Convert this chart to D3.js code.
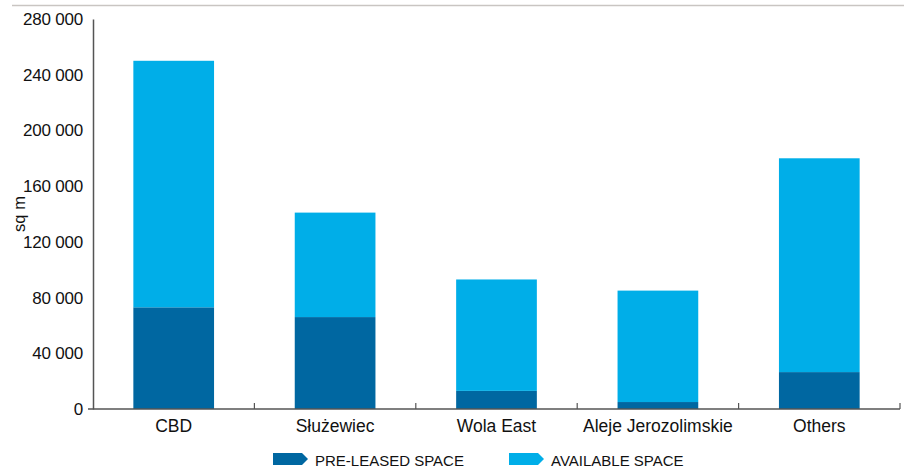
<!DOCTYPE html>
<html>
<head>
<meta charset="utf-8">
<script src="https://cdn.jsdelivr.net/npm/d3@7"></script>
<style>
  body { margin: 0; background: #fff; }
  svg { display: block; font-family: "Liberation Sans", Arial, sans-serif; }
</style>
</head>
<body>
<script>
// data
const districts = ["CBD", "Służewiec", "Wola East", "Aleje Jerozolimskie", "Others"];
const preLeased = [73000, 66000, 13000, 5000, 26500];
const available = [177000, 75000, 80000, 80000, 153500];
const yTicks = [0, 40000, 80000, 120000, 160000, 200000, 240000, 280000];
const seriesNames = ["PRE-LEASED SPACE", "AVAILABLE SPACE"];
const seriesColors = ["#0067a1", "#00aee8"];

const width = 911, height = 470;
const margin = { top: 19, right: 11, bottom: 61, left: 93 };

const svg = d3.select("body").append("svg")
    .attr("width", width)
    .attr("height", height);

// thin rule at the top
svg.append("line")
    .attr("x1", 12).attr("x2", 904)
    .attr("y1", 5.5).attr("y2", 5.5)
    .attr("stroke", "#c9c5c2").attr("stroke-width", 1.5);

const x = d3.scaleBand()
    .domain(districts)
    .range([margin.left, width - margin.right])
    .paddingInner(0.5)
    .paddingOuter(0.25);

const y = d3.scaleLinear()
    .domain([0, 280000])
    .range([height - margin.bottom, margin.top]);

const rows = districts.map((d, i) => ({ district: d, pre: preLeased[i], avail: available[i] }));
const stack = d3.stack().keys(["pre", "avail"])(rows);

svg.append("g")
  .selectAll("g")
  .data(stack)
  .join("g")
    .attr("fill", (d, i) => seriesColors[i])
  .selectAll("rect")
  .data(d => d)
  .join("rect")
    .attr("x", d => x(d.data.district))
    .attr("width", x.bandwidth())
    .attr("y", d => y(d[1]))
    .attr("height", d => y(d[0]) - y(d[1]));

// y axis
const yAxis = svg.append("g")
    .attr("transform", `translate(${margin.left},0)`)
    .call(d3.axisLeft(y).tickValues(yTicks).tickSize(0).tickPadding(10)
        .tickFormat(d => d3.format(",")(d).replace(/,/g, " ")));
yAxis.select(".domain").attr("stroke", "#555").attr("stroke-width", 1.5);
yAxis.selectAll("text").attr("font-size", 17).attr("fill", "#111")
    .attr("font-family", "Liberation Sans, Arial, sans-serif")
    .style("letter-spacing", "-0.2px");

// x axis, ticks between categories pointing up
const xAxisY = y(0);
svg.append("line")
    .attr("x1", margin.left - 5).attr("x2", width - margin.right)
    .attr("y1", xAxisY).attr("y2", xAxisY)
    .attr("stroke", "#555").attr("stroke-width", 1.5);
const step = x.step();
const seps = districts.slice(1).map(d => x(d) - (step - x.bandwidth()) / 2);
seps.push(width - margin.right);
svg.append("g").selectAll("line")
  .data(seps)
  .join("line")
    .attr("x1", d => d).attr("x2", d => d)
    .attr("y1", xAxisY - 6).attr("y2", xAxisY)
    .attr("stroke", "#555").attr("stroke-width", 1.2);

svg.append("g").selectAll("text")
  .data(districts)
  .join("text")
    .attr("x", d => x(d) + x.bandwidth() / 2)
    .attr("y", xAxisY + 23)
    .attr("text-anchor", "middle")
    .attr("font-size", 17.5)
    .attr("fill", "#111")
    .text(d => d);

// y axis title
svg.append("text")
    .attr("transform", "translate(25,214) rotate(-90)")
    .attr("text-anchor", "middle")
    .attr("font-size", 16.5)
    .attr("fill", "#111")
    .text("sq m");

// legend with arrow-shaped swatches
const legendX = [273, 509];
const lg = svg.append("g").selectAll("g")
  .data(seriesNames)
  .join("g")
    .attr("transform", (d, i) => `translate(${legendX[i]},453)`);
lg.append("path")
    .attr("d", "M0,0 H29 L35,6 L29,12 H0 Z")
    .attr("fill", (d, i) => seriesColors[i]);
lg.append("text")
    .attr("x", 42)
    .attr("y", 12.5)
    .attr("font-size", 15)
    .attr("fill", "#111")
    .text(d => d);
</script>
</body>
</html>
